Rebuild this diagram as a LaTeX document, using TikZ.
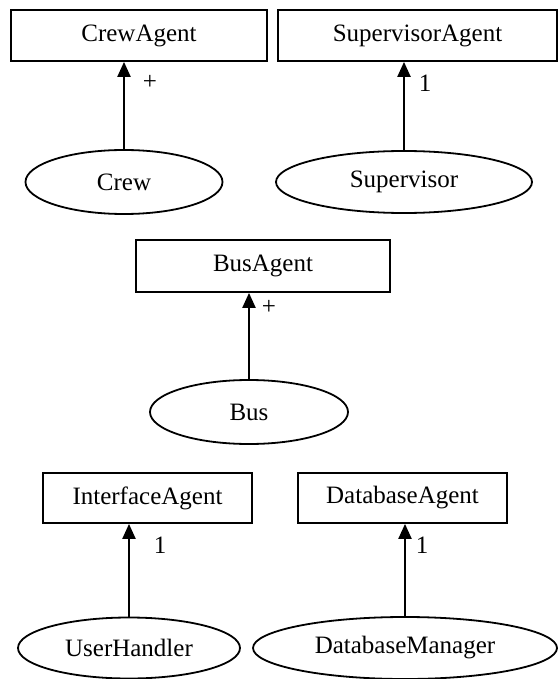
\documentclass[tikz,border=0pt]{standalone}
\usepackage{fontspec}
\setmainfont{Liberation Serif}
\usetikzlibrary{arrows.meta, shapes.geometric}

\begin{document}
\begin{tikzpicture}[x=0.5pt, y=-0.5pt, font=\fontsize{12.5}{15}\selectfont,
    agent/.style={draw, line width=0.9pt, inner sep=0pt},
    role/.style={draw, ellipse, line width=0.9pt, inner sep=0pt},
    link/.style={-{Triangle[length=7.5pt, width=6.5pt]}, line width=1.1pt}]
        % 画布
        \useasboundingbox (0,0) rectangle (558,679);

        % 代理 (矩形)
        \node[agent, minimum width=128pt, minimum height=25.5pt] (crew_agent) at (139,35.5) {CrewAgent};
        \node[agent, minimum width=139.5pt, minimum height=25.5pt] (sup_agent) at (417.5,35.5) {SupervisorAgent};
        \node[agent, minimum width=127pt, minimum height=26pt] (bus_agent) at (263,266) {BusAgent};
        \node[agent, minimum width=104.5pt, minimum height=25pt] (ui_agent) at (147.5,498) {InterfaceAgent};
        \node[agent, minimum width=104.5pt, minimum height=25pt] (db_agent) at (402.5,498) {DatabaseAgent};

        % 角色 (椭圆)
        \node[role, minimum width=98.5pt, minimum height=32pt] (crew) at (124,182) {Crew};
        \node[role, minimum width=128pt, minimum height=31pt] (sup) at (404,182) {Supervisor};
        \node[role, minimum width=99pt, minimum height=32pt] (bus) at (249,412) {Bus};
        \node[role, minimum width=111pt, minimum height=30.5pt] (user) at (129,648) {UserHandler};
        \node[role, minimum width=152pt, minimum height=31pt] (db) at (405,648) {DatabaseManager};

        % 关联箭头
        \draw[link] (crew.north) -- (crew.north |- crew_agent.south);
        \draw[link] (sup.north) -- (sup.north |- sup_agent.south);
        \draw[link] (bus.north) -- (bus.north |- bus_agent.south);
        \draw[link] (user.north) -- (user.north |- ui_agent.south);
        \draw[link] (db.north) -- (db.north |- db_agent.south);

        % 数量标注
        \node (crew_n) at (150,82) {+};
        \node (sup_n) at (425,83) {1};
        \node (bus_n) at (269,307) {+};
        \node (user_n) at (160,545) {1};
        \node (db_n) at (422,545) {1};
    \end{tikzpicture}
\end{document}
